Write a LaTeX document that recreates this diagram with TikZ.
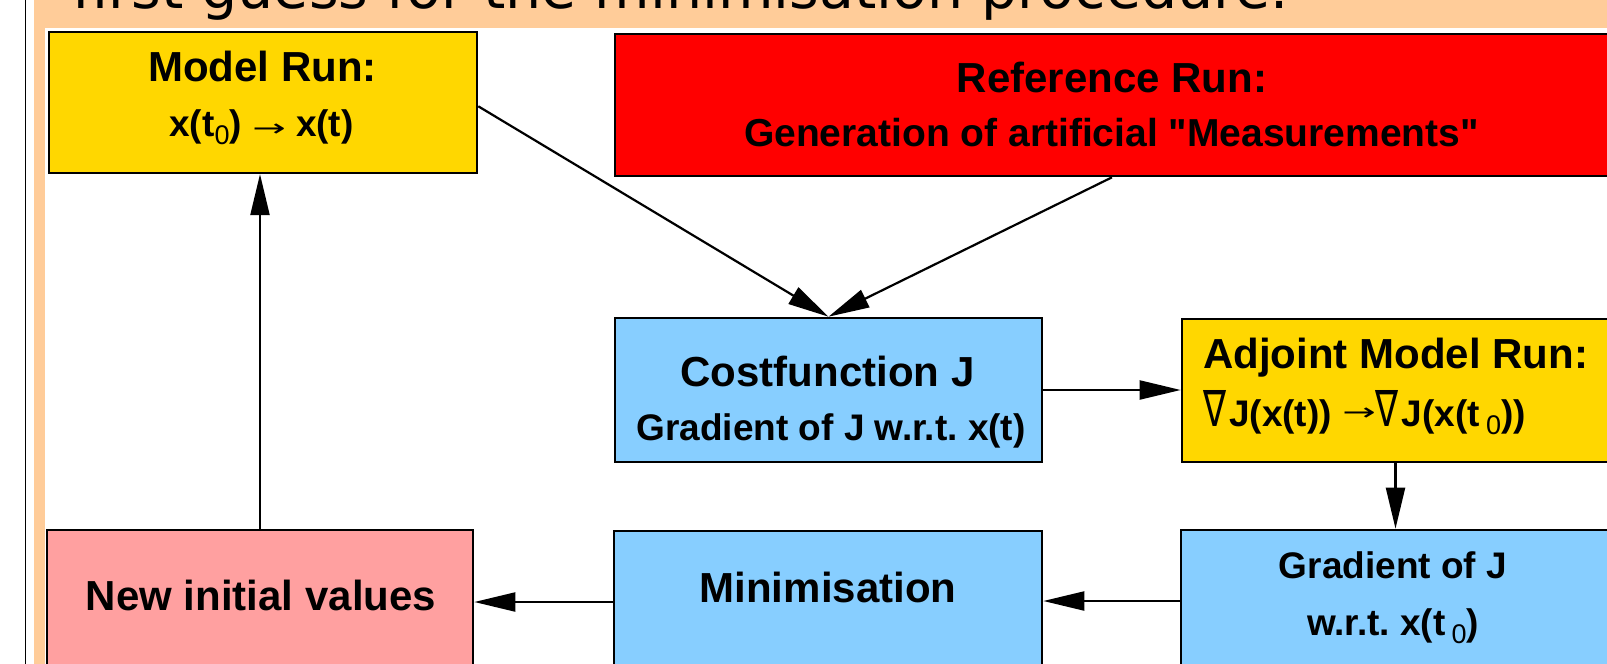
\documentclass[tikz,border=0pt]{standalone}
\usepackage{fontspec}
\usepackage{graphicx}
\setmainfont{Liberation Sans}[Ligatures=TeXOff]
\newfontfamily\symfont{DejaVu Sans}
\usetikzlibrary{arrows.meta}
\frenchspacing

\definecolor{peach}{HTML}{FFCC99}
\definecolor{boxgold}{HTML}{FFD700}
\definecolor{boxred}{HTML}{FF0000}
\definecolor{boxblue}{HTML}{87CEFF}
\definecolor{boxpink}{HTML}{FFA0A0}

% text helpers
\newcommand\bigtxt{\fontsize{42}{50}\selectfont\bfseries}
\newcommand\smalltxt{\fontsize{37}{44}\selectfont\bfseries}
\newcommand\subzero{\raisebox{-8pt}{\fontsize{27}{30}\selectfont\mdseries 0}}
\newcommand\nablasym{\resizebox{23pt}{36pt}{\symfont\mdseries ∇}\hspace{3pt}}
\newcommand\maparrow{\scalebox{1}[0.6]{\symfont\mdseries\fontsize{40}{40}\selectfont →}}

\tikzset{
  flowbox/.style={draw=black, line width=2.6pt, rectangle, inner sep=0pt},
  lbl/.style={inner sep=0pt, anchor=base},
  flow/.style={draw=black, line width=2.2pt, -{Triangle[length=41pt,width=19pt]}},
}

\begin{document}
\begin{tikzpicture}[x=1pt, y=-1pt]
  \useasboundingbox (0,0) rectangle (1607,664);
  \clip (0,0) rectangle (1607,664);

  % page frame: white margin, thin rule, peach border and white panel
  \fill[white] (0,0) rectangle (1607,664);
  \fill[peach] (33.5,0) rectangle (1607,664);
  \fill[white] (45,28) rectangle (1607,664);
  \draw[line width=1.3pt] (25.6,0) -- (25.6,664);

  \node[inner sep=0pt, anchor=base west, font=\symfont\fontsize{57}{60}\selectfont]
    (title) at (72,8) {first guess for the minimisation procedure.};

  % boxes
  \node[flowbox, fill=boxgold, minimum width=428pt, minimum height=141pt] (model) at (263,102.3) {};
  \node[flowbox, fill=boxred,  minimum width=994pt, minimum height=142pt] (ref)   at (1112,105) {};
  \node[flowbox, fill=boxblue, minimum width=427pt, minimum height=144pt] (cost)  at (828.5,390) {};
  \node[flowbox, fill=boxgold, minimum width=427pt, minimum height=143pt] (adj)   at (1395.5,390.5) {};
  \node[flowbox, fill=boxpink, minimum width=426pt, minimum height=142pt] (newv)  at (260,601) {};
  \node[flowbox, fill=boxblue, minimum width=428pt, minimum height=142pt] (mini)  at (828,602) {};
  \node[flowbox, fill=boxblue, minimum width=428pt, minimum height=142pt] (grad)  at (1395,601) {};

  % box texts
  \node[lbl, font=\bigtxt] (modelA) at (262.5,81.7) {Model Run:};
  \node[lbl, font=\smalltxt] (modelB) at (261.5,136.7) {x(t\subzero) \maparrow\ x(t)};

  \node[lbl, font=\bigtxt] (refA) at (1112,92) {Reference Run:};
  \node[lbl, font=\fontsize{39}{46}\selectfont\bfseries] (refB) at (1111.5,146.5)
    {Generation of artificial "Measurements"};

  \node[lbl, font=\bigtxt] (costA) at (827.5,386) {Costfunction J};
  \node[lbl, font=\smalltxt] (costB) at (831,440) {Gradient of J w.r.t. x(t)};

  \node[lbl, anchor=base west, font=\bigtxt] (adjA) at (1203,368) {Adjoint Model Run:};
  \node[lbl, anchor=base west, font=\smalltxt] (adjB) at (1203,426)
    {\nablasym J(x(t)) \raisebox{6pt}{\maparrow}\nablasym J(x(t\,\subzero))};

  \node[lbl, font=\bigtxt] (newvA) at (261,610) {New initial values};
  \node[lbl, font=\bigtxt] (miniA) at (828,602.7) {Minimisation};
  \node[lbl, font=\smalltxt] (gradA) at (1393,578) {Gradient of J};
  \node[lbl, font=\smalltxt] (gradB) at (1393,635) {w.r.t. x(t\,\subzero)};

  % connectors
  \draw[flow] ([yshift=-4pt]model.east) -- (cost.north);
  \draw[flow] (ref.south) -- (cost.north);
  \draw[flow] (cost.east) -- (cost.east -| adj.west);
  \draw[flow] (adj.south) -- (adj.south |- grad.north);
  \draw[flow] (grad.west) -- (grad.west -| mini.east);
  \draw[flow] (mini.west) -- (mini.west -| newv.east);
  \draw[flow] (newv.north) -- (newv.north |- model.south);
\end{tikzpicture}
\end{document}
